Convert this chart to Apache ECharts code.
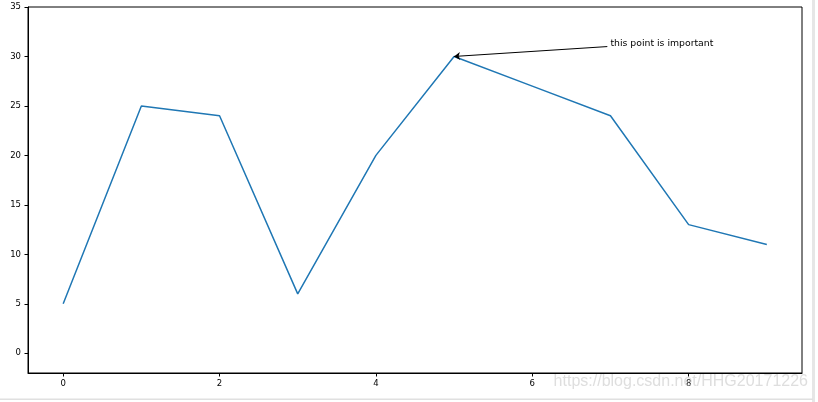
<!DOCTYPE html>
<html>
<head>
<meta charset="utf-8">
<script src="https://cdn.jsdelivr.net/npm/echarts@6/dist/echarts.min.js"></script>
<style>
  html, body { margin: 0; padding: 0; background: #fff; }
  #main { width: 818px; height: 402px; }
</style>
</head>
<body>
<div id="main"></div>
<script>
    // data
    var xValues = [0, 1, 2, 3, 4, 5, 6, 7, 8, 9];
    var yValues = [5, 25, 24, 6, 20, 30, 27, 24, 13, 11];
    var xTicks = [0, 2, 4, 6, 8];
    var yTicks = [0, 5, 10, 15, 20, 25, 30, 35];
    var noteText = 'this point is important';
    var notePoint = [5, 30];
    var noteTextAt = [7, 31];
    var arrowStart = [6.96, 31];

    var chart = echarts.init(document.getElementById('main'));

    var points = [];
    for (var i = 0; i < xValues.length; i++) {
        points.push([xValues[i], yValues[i]]);
    }

    var tickFont = 'DejaVu Sans';

    var option = {
        animation: false,
        backgroundColor: '#ffffff',
        grid: {
            left: 28,
            right: 16,
            top: 7,
            bottom: 29,
            show: true,
            borderColor: '#000',
            borderWidth: 1
        },
        xAxis: {
            type: 'value',
            min: -0.45,
            max: 9.45,
            splitLine: { show: false },
            axisLine: { show: true, onZero: false, lineStyle: { color: '#000', width: 1 } },
            axisTick: {
                show: true,
                customValues: xTicks,
                length: 3.5,
                lineStyle: { color: '#000' }
            },
            axisLabel: {
                customValues: xTicks,
                fontSize: 8.5,
                fontFamily: tickFont,
                color: '#000',
                margin: 6
            }
        },
        yAxis: {
            type: 'value',
            min: -2,
            max: 35,
            splitLine: { show: false },
            axisLine: { show: true, onZero: false, lineStyle: { color: '#000', width: 1 } },
            axisTick: {
                show: true,
                customValues: yTicks,
                length: 3.5,
                lineStyle: { color: '#000' }
            },
            axisLabel: {
                customValues: yTicks,
                fontSize: 8.5,
                fontFamily: tickFont,
                color: '#000',
                margin: 7
            }
        },
        series: [
            {
                type: 'line',
                data: points,
                showSymbol: false,
                symbol: 'none',
                lineStyle: { color: '#1f77b4', width: 1.5 },
                markLine: {
                    silent: true,
                    symbol: ['none', 'arrow'],
                    symbolSize: 6,
                    label: { show: false },
                    lineStyle: { color: '#000', width: 1, type: 'solid' },
                    data: [[{ coord: arrowStart }, { coord: notePoint }]]
                },
                markPoint: {
                    silent: true,
                    symbol: 'circle',
                    symbolSize: 0,
                    data: [{ coord: noteTextAt }],
                    label: {
                        show: true,
                        formatter: noteText,
                        position: 'right',
                        distance: 0,
                        offset: [0, -3.3],
                        fontSize: 9.3,
                        fontFamily: tickFont,
                        color: '#000'
                    }
                }
            }
        ],
        graphic: [
            {
                type: 'rect',
                shape: { x: 812, y: 0, width: 3, height: 402 },
                style: { fill: '#e6e6e6' },
                z: 100
            },
            {
                type: 'rect',
                shape: { x: 0, y: 398.5, width: 813, height: 1.5 },
                style: { fill: '#e0e0e0' },
                z: 100
            },
            {
                type: 'text',
                right: 10,
                top: 374,
                style: {
                    text: 'https://blog.csdn.net/HHG20171226',
                    font: '16px "Liberation Sans", Arial, sans-serif',
                    fill: 'rgba(200,200,200,0.6)'
                },
                z: 101
            }
        ]
    };

    chart.setOption(option);
</script>
</body>
</html>
